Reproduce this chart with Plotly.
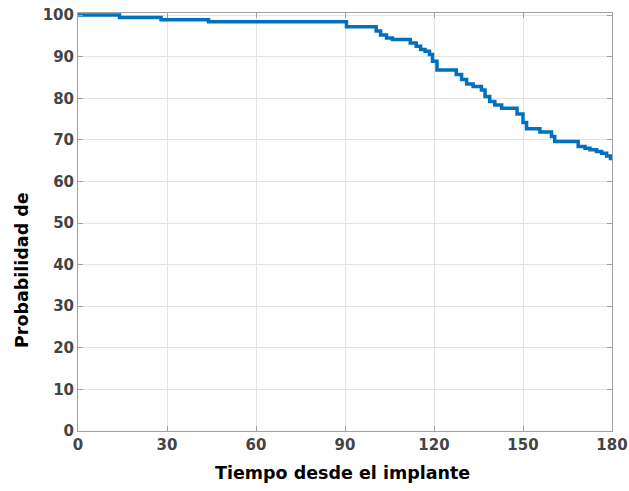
import plotly.graph_objects as go

# Survival step curve (time, probability %)
tiempo = [0, 14, 28, 44, 90.5, 100.5, 102, 104, 106, 112, 114, 115.5, 117, 118.5,
          119.5, 121, 127.5, 129.3, 131, 133.2, 136, 137.2, 138.8, 140.5, 142.8,
          148, 150, 151.2, 155.7, 159.6, 160.7, 168.6, 170.9, 172.6, 174.8, 176.5,
          178.2, 179.5, 180]
probabilidad = [100, 99.4, 98.9, 98.4, 97.2, 96.2, 95.2, 94.5, 94.1, 93.3, 92.5, 91.7,
                91.3, 90.5, 88.9, 86.8, 85.7, 84.5, 83.4, 82.8, 82.0, 80.4, 79.2, 78.4,
                77.6, 76.2, 74.2, 72.7, 71.9, 70.8, 69.6, 68.4, 68.0, 67.6, 67.2, 66.8,
                66.1, 65.5, 65.5]

x_ticks = [0, 30, 60, 90, 120, 150, 180]
y_ticks = [0, 10, 20, 30, 40, 50, 60, 70, 80, 90, 100]

fig = go.Figure()
fig.add_trace(go.Scatter(x=tiempo, y=probabilidad, mode="lines",
                         line=dict(shape="hv", color="#0072BD", width=3.5),
                         showlegend=False, hoverinfo="skip"))

FONT = "DejaVu Sans, Verdana, sans-serif"
tick_font = dict(family=FONT, size=15, color="#444444")
axis_common = dict(showline=True, linecolor="#a0a0a0", linewidth=1, mirror="ticks",
                   ticks="inside", ticklen=5, tickcolor="#a0a0a0",
                   showgrid=True, gridcolor="#e3e3e3", gridwidth=1,
                   zeroline=False, tickfont=tick_font, automargin=False,
                   ticklabeloverflow="allow")

fig.update_layout(
    width=629, height=491,
    margin=dict(l=78, r=17, t=13, b=60),
    paper_bgcolor="white", plot_bgcolor="white",
    xaxis=dict(range=[0, 180], tickvals=x_ticks, ticktext=[f"<b>{v}</b>" for v in x_ticks],
               **axis_common),
    yaxis=dict(range=[0, 100.5], tickvals=y_ticks, ticktext=[f"<b>{v}</b>" for v in y_ticks],
               **axis_common),
    annotations=[
        dict(text="<b>Tiempo desde el implante</b>", xref="paper", yref="paper",
             x=0.495, y=-0.10, xanchor="center", yanchor="middle", showarrow=False,
             font=dict(family=FONT, size=17.5, color="black")),
        dict(text="<b>Probabilidad de</b>", xref="paper", yref="paper",
             x=-0.105, y=0.385, xanchor="center", yanchor="middle", showarrow=False,
             textangle=-90,
             font=dict(family=FONT, size=17.5, color="black")),
    ],
)

# remove the default page margin so the figure fills the window exactly
fig.write_html("out.html",
               config={"displayModeBar": False},
               post_script="document.body.style.margin='0';document.body.style.overflow='hidden';")
